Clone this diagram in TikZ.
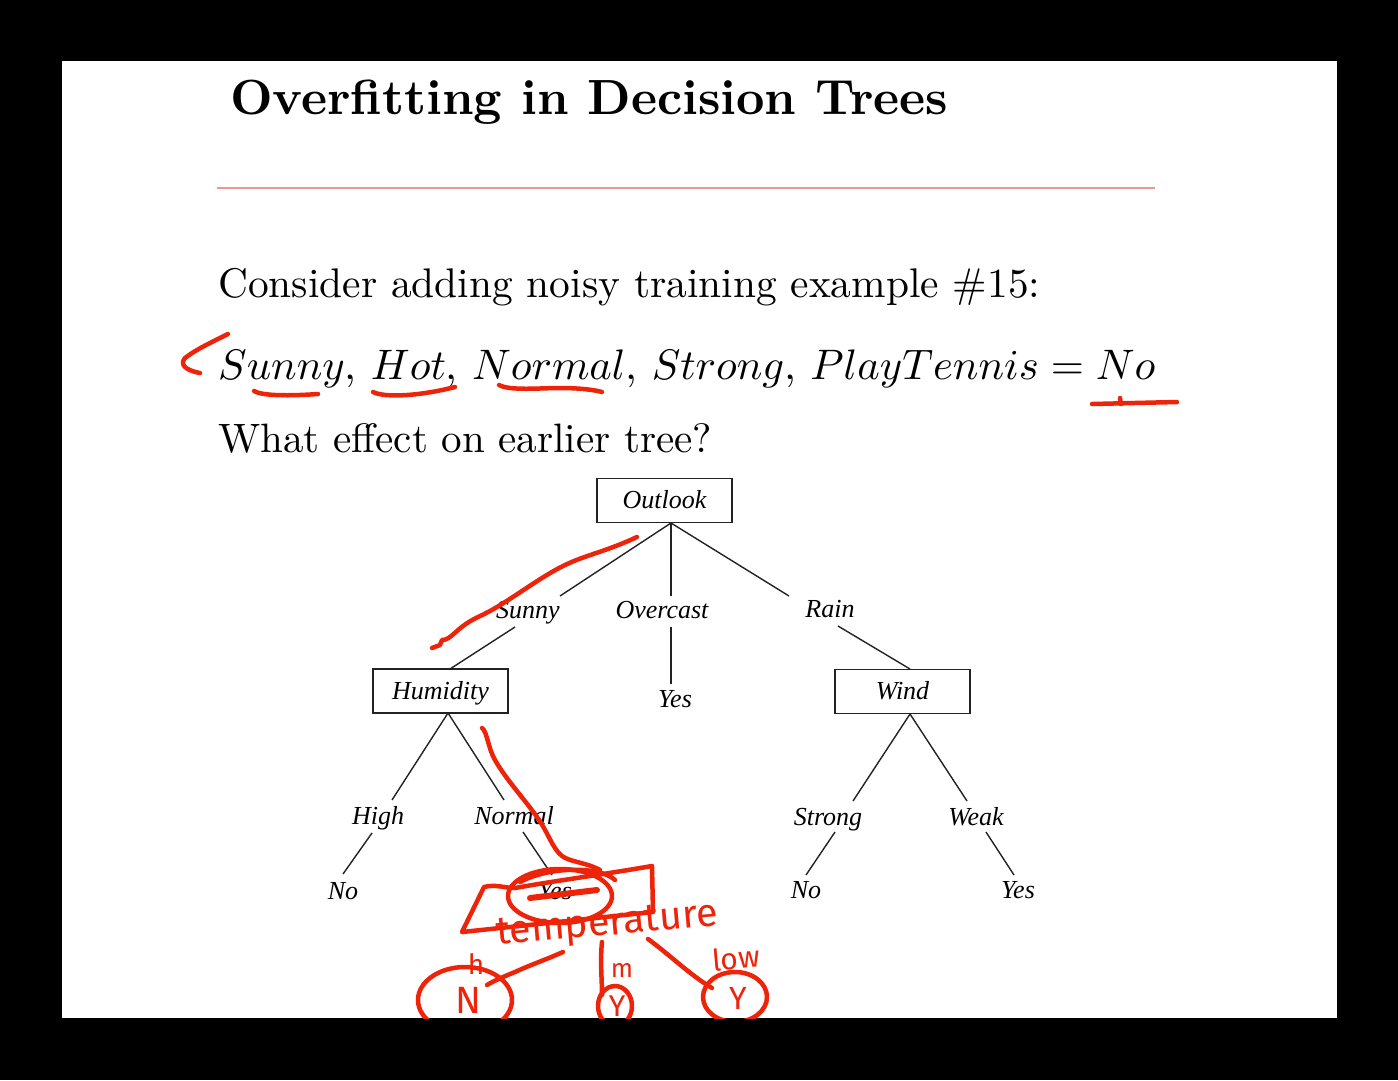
\documentclass[tikz,border=0pt]{standalone}
\usepackage{fontspec}
\usepackage{graphicx}
\newfontfamily\treefont{Liberation Serif}
\newfontfamily\penfont{Fira Sans}
\usetikzlibrary{calc}
\definecolor{ink}{RGB}{238,36,10}
\definecolor{rulepink}{RGB}{236,150,150}
\definecolor{treegray}{RGB}{35,35,35}

\begin{document}
\begin{tikzpicture}[x=1pt,y=-1pt,
  attr/.style={draw=treegray, line width=1.4pt, minimum width=135pt, minimum height=44pt,
    inner sep=0pt, text height=16pt, text depth=0pt,
    font=\treefont\itshape\fontsize{26}{26}\selectfont},
  lbl/.style={inner sep=0pt, anchor=base, font=\treefont\itshape\fontsize{26}{26}\selectfont},
  edge/.style={draw=treegray, line width=1.4pt},
  pen/.style={draw=ink, line width=4.5pt, line cap=round, line join=round},
  hand/.style={text=ink, inner sep=0pt, font=\penfont}
]
% frame and slide
\useasboundingbox (0,0) rectangle (1398,1080);
\fill[black] (0,0) rectangle (1398,1080);
\fill[white] (62,61) rectangle (1337,1018);

% heading and rule
\node[anchor=base west, inner sep=0pt] (title) at (230,114)
  {\resizebox{718pt}{!}{\bfseries Overfitting in Decision Trees}};
\draw[rulepink, line width=1.5pt] (217,188) -- (1155,188);

% body text
\node[anchor=base west, inner sep=0pt] (consider) at (218,297)
  {\resizebox{822pt}{!}{Consider adding noisy training example \#15:}};
\node[anchor=base west, inner sep=0pt] (example) at (218,379)
  {\resizebox{937pt}{!}{$Sunny$, $Hot$, $Normal$, $Strong$, $PlayTennis = No$}};
\node[anchor=base west, inner sep=0pt] (question) at (218,452)
  {\resizebox{494pt}{!}{What effect on earlier tree?}};

% decision tree: attribute boxes
\node[attr] (outlook)  at (664.5,500.5) {Outlook};
\node[attr] (humidity) at (440.5,691)   {Humidity};
\node[attr] (wind)     at (902.5,691.5) {Wind};

% branch labels and leaves
\node[lbl] (sunny)    at (528,618) {Sunny};
\node[lbl] (overcast) at (662,618) {Overcast};
\node[lbl] (rain)     at (830,617) {Rain};
\node[lbl] (yesO)     at (675,707) {Yes};
\node[lbl] (high)     at (378,824) {High};
\node[lbl] (normal)   at (514,824) {Normal};
\node[lbl] (noH)      at (343,899) {No};
\node[lbl] (yesN)     at (555,899) {Yes};
\node[lbl] (strong)   at (828,825) {Strong};
\node[lbl] (weak)     at (976,825) {Weak};
\node[lbl] (noW)      at (806,898) {No};
\node[lbl] (yesW)     at (1018,898) {Yes};

% edge end points
\coordinate (outlook-b) at (671,523);
\coordinate (humidity-b) at (448,713);
\coordinate (wind-b) at (910,714);
\coordinate (humidity-t) at (450,669);
\coordinate (wind-t) at (910,669);
\coordinate (sunny-t) at (560,596);   \coordinate (sunny-b) at (515,627);
\coordinate (overcast-t) at (671,596); \coordinate (overcast-b) at (671,627);
\coordinate (rain-t) at (789,596);    \coordinate (rain-b) at (838,626);
\coordinate (yesO-t) at (671,684);
\coordinate (high-t) at (392,800);    \coordinate (high-b) at (372,833);
\coordinate (normal-t) at (504,800);  \coordinate (normal-b) at (523,832);
\coordinate (noH-t) at (343,874);     \coordinate (yesN-t) at (552,875);
\coordinate (strong-t) at (853,801);  \coordinate (strong-b) at (835,832);
\coordinate (weak-t) at (967,801);    \coordinate (weak-b) at (986,832);
\coordinate (noW-t) at (806,875);     \coordinate (yesW-t) at (1014,875);

% edges
\draw[edge] (outlook-b) -- (sunny-t);
\draw[edge] (outlook-b) -- (overcast-t);
\draw[edge] (outlook-b) -- (rain-t);
\draw[edge] (sunny-b) -- (humidity-t);
\draw[edge] (overcast-b) -- (yesO-t);
\draw[edge] (rain-b) -- (wind-t);
\draw[edge] (humidity-b) -- (high-t);
\draw[edge] (humidity-b) -- (normal-t);
\draw[edge] (high-b) -- (noH-t);
\draw[edge] (normal-b) -- (yesN-t);
\draw[edge] (wind-b) -- (strong-t);
\draw[edge] (wind-b) -- (weak-t);
\draw[edge] (strong-b) -- (noW-t);
\draw[edge] (weak-b) -- (yesW-t);

% red pen annotations
\begin{scope}
\clip (62,61) rectangle (1337,1018);
% marks on the example
\draw[pen] (228,334) .. controls (212,342) and (195,350) .. (185,358)
  .. controls (180,364) and (184,370) .. (200,373);
\draw[pen] (254,391) .. controls (262,396) and (290,396) .. (318,394);
\draw[pen] (373,392) .. controls (385,398) and (420,396) .. (455,387);
\draw[pen] (499,385) .. controls (510,391) and (540,388) .. (560,388)
  .. controls (580,388) and (595,390) .. (602,392);
\draw[pen] (1092,404) -- (1177,402);
\draw[pen] (1120,398) -- (1121,404);
% path through the Sunny branch
\draw[pen] (637,537) .. controls (605,552) and (585,555) .. (563,566)
  .. controls (535,580) and (505,605) .. (478,617)
  .. controls (455,628) and (452,640) .. (442,640) -- (440,645) -- (432,648);
% path down to the Normal leaf
\draw[pen] (482,728) .. controls (487,731) and (488,748) .. (495,760)
  .. controls (505,778) and (525,800) .. (537,817)
  .. controls (548,832) and (552,848) .. (562,856)
  .. controls (570,862) and (585,862) .. (600,870);
% leaf replaced by a new test
\draw[pen] (560,896) ellipse[x radius=52, y radius=27];
\draw[pen] (520,882) .. controls (550,866) and (600,866) .. (615,880);
\draw[ink, line width=6pt, line cap=round] (530,898) -- (597,890);
\draw[pen] (462,932) -- (484,887) .. controls (495,884) and (505,888) .. (515,888)
  .. controls (560,880) and (600,875) .. (652,866) -- (653,912) -- cycle;
\node[hand, rotate=5, anchor=base west] (temperature) at (497,945)
  {\resizebox{222pt}{!}{temperature}};
% branches of the new test
\coordinate (t-left) at (563,952);
\coordinate (t-mid) at (602,942);
\coordinate (t-right) at (648,939);
\draw[pen] (t-left) .. controls (545,960) and (530,965) .. (515,972)
  .. controls (500,978) and (492,982) .. (487,985);
\draw[pen] (t-mid) .. controls (600,960) and (602,980) .. (602,995);
\draw[pen] (t-right) .. controls (670,955) and (690,975) .. (712,988);
\node[hand, font=\penfont\fontsize{28}{28}\selectfont] (hlabel) at (476,964) {h};
\node[hand, font=\penfont\fontsize{26}{26}\selectfont] (mlabel) at (622,970) {m};
\node[hand, rotate=5, font=\penfont\fontsize{30}{30}\selectfont] (lowlabel) at (736,958) {low};
% new leaves
\draw[pen] (465,1000) ellipse[x radius=47, y radius=33];
\node[hand, font=\penfont\fontsize{38}{38}\selectfont] (leafN) at (468,1000) {N};
\draw[pen] (615,1006) ellipse[x radius=17, y radius=20];
\node[hand, font=\penfont\fontsize{30}{30}\selectfont] (leafY1) at (617,1006) {Y};
\draw[pen] (735,997) ellipse[x radius=32, y radius=25];
\node[hand, font=\penfont\fontsize{32}{32}\selectfont] (leafY2) at (738,998) {Y};
\end{scope}
\end{tikzpicture}
\end{document}
